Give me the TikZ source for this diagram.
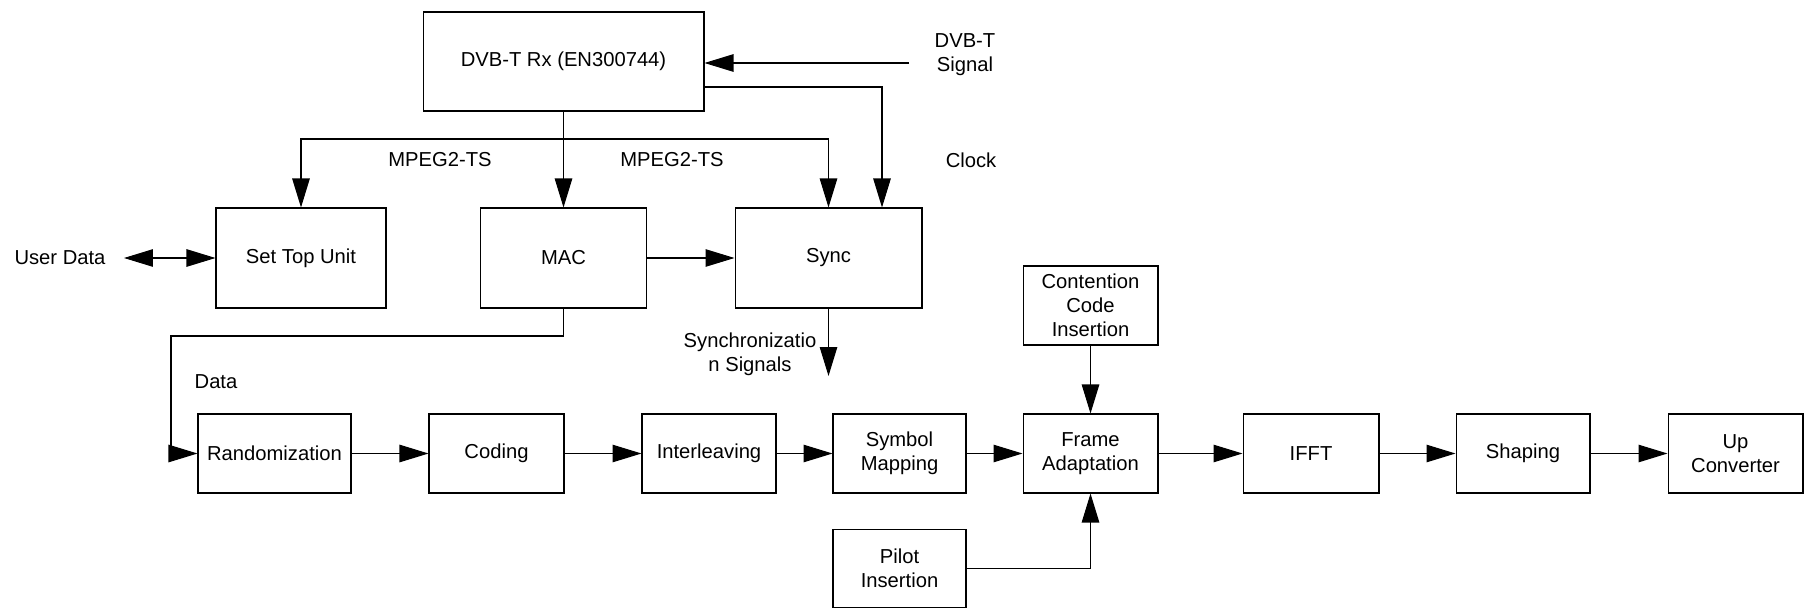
\documentclass[tikz,border=0pt]{standalone}
\usepackage{fontspec}
\setmainfont{Liberation Sans}
\usepackage{tikz}
\usetikzlibrary{positioning, calc, arrows.meta}

\begin{document}
\begin{tikzpicture}[x=0.02cm, y=-0.02cm,
  font=\fontsize{11.5}{13.7}\selectfont,
  >={Triangle[length=0.58cm, width=0.35cm]},
  line width=0.6pt,
  blk/.style={draw, rectangle, inner sep=0pt, align=center, minimum height=1.58cm},
  lbl/.style={align=center, inner sep=0pt}]
\useasboundingbox (0,0) rectangle (1808,608);
% nodes
\node[blk, minimum width=5.62cm, minimum height=1.98cm] (rx) at (563.5, 61.5) {DVB-T Rx (EN300744)};
\node[blk, minimum width=3.4cm, minimum height=2cm] (stu) at (301, 258) {Set Top Unit};
\node[blk, minimum width=3.32cm, minimum height=2cm] (mac) at (563.5, 258) {MAC};
\node[blk, minimum width=3.74cm, minimum height=2cm] (sync) at (828.5, 258) {Sync};
\node[blk, minimum width=3.06cm] (rand) at (274.5, 453.5) {Randomization};
\node[blk, minimum width=2.7cm] (cod) at (496.5, 453.5) {Coding};
\node[blk, minimum width=2.68cm] (intl) at (709, 453.5) {Interleaving};
\node[blk, minimum width=2.66cm] (sym) at (899.5, 453.5) {Symbol\\Mapping};
\node[blk, minimum width=2.7cm] (frame) at (1090.5, 453.5) {Frame\\Adaptation};
\node[blk, minimum width=2.72cm] (ifft) at (1311, 453.5) {IFFT};
\node[blk, minimum width=2.68cm] (shp) at (1523, 453.5) {Shaping};
\node[blk, minimum width=2.7cm] (up) at (1735.5, 453.5) {Up\\Converter};
\node[blk, minimum width=2.7cm] (cont) at (1090.5, 305.5) {Contention\\Code\\Insertion};
\node[blk, minimum width=2.66cm, minimum height=1.56cm] (pilot) at (899.5, 568.5) {Pilot\\Insertion};
% labels
\node[lbl] (sig) at (965, 55) {DVB-T\\Signal};
\node[lbl] (clock) at (971, 160) {Clock};
\node[lbl] (ts1) at (440, 160) {MPEG2-TS};
\node[lbl] (ts2) at (672, 160) {MPEG2-TS};
\node[lbl] (user) at (60, 258) {User Data};
\node[lbl] (data) at (216, 382) {Data};
\node[lbl] (synclbl) at (750, 354) {Synchronizatio\\n Signals};
\coordinate (sigin) at (909, 63);
\coordinate (clk) at (882, 87);
\coordinate (split) at (563.5, 139);
\coordinate (udend) at (124, 258);
\coordinate (dturn) at (171, 336);
\coordinate (syncout) at (828.5, 376);
% arrows
\draw[->] (sigin) -- (sigin -| rx.east);
\draw[->] (clk -| rx.east) -- (clk) -- (clk |- sync.north);
\draw (rx.south) -- (split);
\draw[->] (split) -| (stu.north);
\draw[->] (split) -- (mac.north);
\draw[->] (split) -| (sync.north);
\draw[<->] (udend) -- (stu.west);
\draw[->] (mac) -- (sync);
\draw[->] (mac.south) |- (dturn) |- (rand.west);
\draw[->] (sync.south) -- (syncout);
\draw[->] (rand) -- (cod);
\draw[->] (cod) -- (intl);
\draw[->] (intl) -- (sym);
\draw[->] (sym) -- (frame);
\draw[->] (frame) -- (ifft);
\draw[->] (ifft) -- (shp);
\draw[->] (shp) -- (up);
\draw[->] (cont) -- (frame);
\draw[->] (pilot.east) -| (frame.south);
\end{tikzpicture}
\end{document}
